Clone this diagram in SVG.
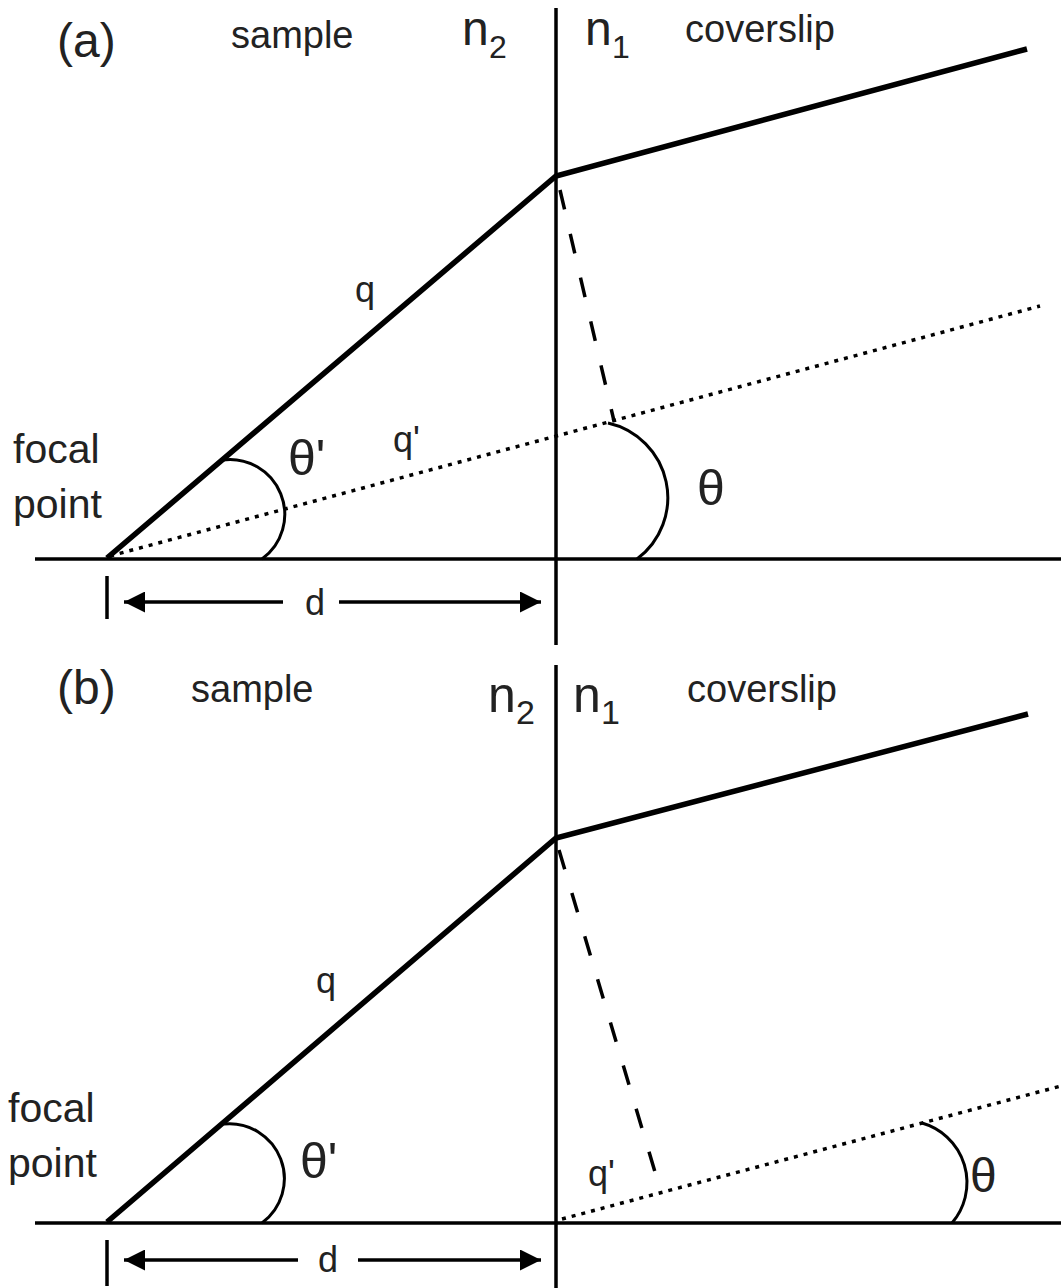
<svg xmlns="http://www.w3.org/2000/svg" width="1061" height="1288" viewBox="0 0 1061 1288">
<defs>
<style>
.t{font-family:"Liberation Sans",Arial,sans-serif;fill:#222}
.ax{stroke:#000;stroke-width:3.5;fill:none}
.ray{stroke:#000;stroke-width:5.5;fill:none;stroke-linejoin:miter}
.dot{stroke:#000;stroke-width:3.5;fill:none;stroke-dasharray:4 6}
.dash{stroke:#000;stroke-width:3.5;fill:none;stroke-dasharray:20 25}
.arc{stroke:#000;stroke-width:3;fill:none}
.dim{stroke:#000;stroke-width:3.5;fill:none}
</style>
<marker id="ah" viewBox="0 0 10 10" refX="10" refY="5" markerWidth="8" markerHeight="6" markerUnits="strokeWidth" orient="auto">
<path d="M0,0 L10,5 L0,10 Z" fill="#000"/>
</marker>
</defs>
<rect width="1061" height="1288" fill="#fff"/>

<!-- Panel (a) -->
<g id="panel-a">
<g id="a-labels">
<text class="t" x="57" y="57" font-size="48">(a)</text>
<text class="t" x="231" y="48" font-size="38">sample</text>
<text class="t" x="462" y="45" font-size="48">n</text>
<text class="t" x="489" y="58" font-size="32">2</text>
<text class="t" x="585" y="45" font-size="48">n</text>
<text class="t" x="612" y="58" font-size="32">1</text>
<text class="t" x="685" y="42" font-size="38">coverslip</text>
<text class="t" x="13" y="463" font-size="41">focal</text>
<text class="t" x="13" y="518" font-size="41">point</text>
<text class="t" x="355" y="302" font-size="36">q</text>
<text class="t" x="393" y="452" font-size="36">q'</text>
<text class="t" x="288" y="475" font-size="50">θ'</text>
<text class="t" x="697" y="505" font-size="50">θ</text>
<text class="t" x="305" y="615" font-size="36">d</text>
</g>
<g id="a-connectors">
<line class="ax" x1="556" y1="8" x2="556" y2="645"/>
<line class="ax" x1="35" y1="559" x2="1061" y2="559"/>
<polyline class="ray" points="107,558 556,176 1027,49"/>
<line class="dot" x1="110" y1="556" x2="1040" y2="306"/>
<line class="dash" x1="560" y1="190" x2="614" y2="421"/>
<path class="arc" d="M222,460 A55,55 0 0 1 262,559"/>
<path class="arc" d="M608,423 A76.5,76.5 0 0 1 637,559"/>
<line class="dim" x1="107" y1="576" x2="107" y2="619"/>
<line class="dim" x1="283" y1="602" x2="124" y2="602" marker-end="url(#ah)"/>
<line class="dim" x1="339" y1="602" x2="541" y2="602" marker-end="url(#ah)"/>
</g>
</g>

<!-- Panel (b) -->
<g id="panel-b">
<g id="b-labels">
<text class="t" x="57" y="704" font-size="48">(b)</text>
<text class="t" x="191" y="702" font-size="38">sample</text>
<text class="t" x="488" y="712" font-size="50">n</text>
<text class="t" x="516" y="724" font-size="34">2</text>
<text class="t" x="573" y="712" font-size="50">n</text>
<text class="t" x="601" y="724" font-size="34">1</text>
<text class="t" x="687" y="702" font-size="38">coverslip</text>
<text class="t" x="8" y="1122" font-size="41">focal</text>
<text class="t" x="8" y="1177" font-size="41">point</text>
<text class="t" x="316" y="993" font-size="36">q</text>
<text class="t" x="588" y="1186" font-size="36">q'</text>
<text class="t" x="300" y="1178" font-size="50">θ'</text>
<text class="t" x="970" y="1192" font-size="48">θ</text>
<text class="t" x="318" y="1272" font-size="36">d</text>
</g>
<g id="b-connectors">
<line class="ax" x1="556" y1="665" x2="556" y2="1288"/>
<line class="ax" x1="35" y1="1223" x2="1061" y2="1223"/>
<polyline class="ray" points="107,1222 556,838 1028,714"/>
<line class="dot" x1="562" y1="1219" x2="1061" y2="1086"/>
<line class="dash" x1="559" y1="850" x2="655" y2="1172"/>
<path class="arc" d="M224,1124 A55,55 0 0 1 262,1223"/>
<path class="arc" d="M922,1123 A62,62 0 0 1 952,1223"/>
<line class="dim" x1="107" y1="1240" x2="107" y2="1286"/>
<line class="dim" x1="298" y1="1260" x2="124" y2="1260" marker-end="url(#ah)"/>
<line class="dim" x1="358" y1="1260" x2="541" y2="1260" marker-end="url(#ah)"/>
</g>
</g>
</svg>
